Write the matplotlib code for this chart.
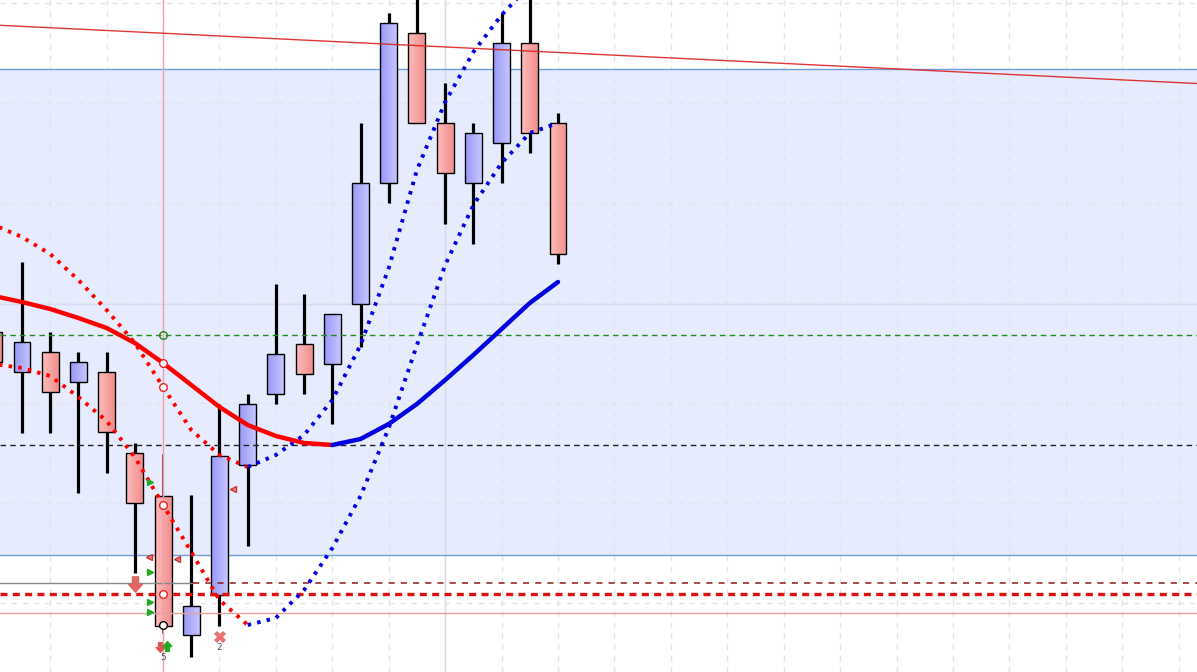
import numpy as np
import matplotlib
matplotlib.use("Agg")
import matplotlib.pyplot as plt
from matplotlib.colors import LinearSegmentedColormap
from matplotlib.patches import Rectangle
from matplotlib.path import Path

# ---- data (price units) ----
opens  = [340, 300, 320, 290, 300, 219, 176, 37, 77, 207, 278, 328, 308, 368, 489, 639, 549, 489, 529, 629, 549]
highs  = [345, 410, 340, 320, 320, 229, 217, 177, 268, 278, 388, 378, 358, 549, 659, 690, 589, 549, 659, 690, 559]
lows   = [300, 239, 239, 179, 199, 99, 39, 15, 46, 126, 268, 278, 248, 325, 469, 549, 448, 428, 489, 519, 408]
closes = [310, 330, 280, 310, 240, 169, 46, 66, 216, 268, 318, 298, 358, 489, 649, 549, 499, 539, 629, 539, 418]

ma      = [376, 370, 363, 354, 344, 329, 309, 287, 265, 247, 236, 229, 227, 233, 248, 268, 292, 317, 343, 369, 390]
upper   = [447, 435, 418, 392, 362, 329, 285, 242, 217, 205, 217, 237, 272, 327, 404, 502, 570, 620, 657, 687, 712]
lower   = [308, 304, 296, 275, 251, 215, 167, 120, 72, 47, 54, 82, 124, 176, 244, 327, 407, 467, 509, 539, 549]

band_lo, band_hi = 117, 603
trend_x = [0, 43]
trend_y = [647, 588]
lvl_green = 337
lvl_black = 227
lvl_gray = 89
lvl_red = 78
lvl_pink = 59
cursor_x, cursor_y = 16, 368
sel = 6

tri_right_x = [5.54, 5.54, 5.54, 5.54]
tri_right_y = [190, 100, 70, 60]
tri_left_x = [5.5, 6.5, 8.48]
tri_left_y = [115, 113, 183]

n = len(opens)
idx = np.arange(n)

fig = plt.figure(figsize=(11.97, 6.72), dpi=100)
ax = fig.add_axes([0, 0, 1, 1])
ax.set_facecolor("white")

# band
ax.axhspan(band_lo, band_hi, color="#e6ecfd", zorder=0, lw=0)
ax.axhline(band_lo, color="#6f9ede", lw=1, zorder=1)
ax.axhline(band_hi, color="#6f9ede", lw=1, zorder=1)

# grid
for gx in range(2, 44, 2):
    ax.axvline(gx, color="#e2e4ec", lw=1, ls=(0, (4, 4)), zorder=0.5)
for gy in range(69, 700, 100):
    ax.axhline(gy, color="#e2e4ec", lw=1, ls=(0, (4, 4)), zorder=0.5)
ax.axvline(cursor_x, color="#d9dce8", lw=1, zorder=0.6)
ax.axhline(cursor_y, color="#d6daf2", lw=1, zorder=0.6)

# candles
blue_cm = LinearSegmentedColormap.from_list("b", ["#9898f8", "#c6c6ff"])
red_cm = LinearSegmentedColormap.from_list("r", ["#ffbcbc", "#f08e8e"])
grad = np.linspace(0, 1, 32).reshape(1, -1)
w = 0.6
for i in range(n):
    o, h, l, c = opens[i], highs[i], lows[i], closes[i]
    if i == sel:
        ax.plot([i, i], [l, h], color="#6a2020", lw=1.1, zorder=2)
    else:
        ax.plot([i, i], [l, h], color="black", lw=2.3, solid_capstyle="butt", zorder=2)
    lo, hi = min(o, c), max(o, c)
    cm = blue_cm if c >= o else red_cm
    ax.imshow(grad, cmap=cm, extent=(i - w / 2, i + w / 2, lo, hi), aspect="auto",
              interpolation="bilinear", zorder=3)
    ax.add_patch(Rectangle((i - w / 2, lo), w, hi - lo, fill=False, ec="black", lw=1, zorder=3.1))

# level lines
ax.axhline(lvl_green, color="#1f8a1f", lw=1, ls=(0, (4, 3)), zorder=4)
ax.axhline(lvl_black, color="#222222", lw=1, ls=(0, (4, 3)), zorder=4)
ax.plot([0, 7.06], [lvl_gray, lvl_gray], color="#8a8a8a", lw=1, zorder=4)
ax.plot([7.06, 43], [lvl_gray, lvl_gray], color="#8b1a1a", lw=1.1, ls=(0, (4, 4)), zorder=4)
ax.axhline(lvl_red, color="#e01010", lw=2.4, ls=(0, (2.1, 1.6)), zorder=4)
ax.axhline(lvl_pink, color="#e8a0a0", lw=1, zorder=4)
ax.axvline(sel, color="#f2a0a8", lw=1, zorder=4)
ax.plot(trend_x, trend_y, color="#dd2020", lw=1, alpha=0.9, zorder=4)


def two_tone(vals, style):
    vals = np.array(vals, dtype=float)
    k = int(np.argmin(vals))
    ax.plot(idx[:k + 1], vals[:k + 1], color="#ff0000", zorder=5, **style)
    ax.plot(idx[k:], vals[k:], color="#0000e0", zorder=5, **style)


dots = dict(lw=2.8, ls=(0, (0.9, 1.6)), dash_capstyle="butt")
two_tone(upper, dots)
two_tone(lower, dots)
two_tone(ma, dict(lw=3.2, solid_capstyle="round"))

# markers at selected bar
ax.plot(sel, lvl_green, "o", ms=5.5, mfc="none", mec="#1f8a1f", mew=1, zorder=7)
for yv in [ma[sel], upper[sel], lower[sel], lvl_red]:
    ax.plot(sel, yv, "o", ms=5.5, mfc="white", mec="#ee2020", mew=1, zorder=7)
ax.plot(sel, lows[sel] + 8, "o", ms=5.5, mfc="white", mec="black", mew=1, zorder=7)

ax.plot(tri_right_x, tri_right_y, ">", ms=4.5, color="#22aa22", ls="none", zorder=7)
ax.plot(tri_left_x, tri_left_y, "<", ms=4.5, mfc="#f08080", mec="#cc3333", ls="none", zorder=7)

arrow_down = Path([(-0.2, 0.5), (0.2, 0.5), (0.2, 0.0), (0.45, 0.0), (0, -0.5), (-0.45, 0.0), (-0.2, 0.0), (-0.2, 0.5)],
                  [Path.MOVETO] + [Path.LINETO] * 6 + [Path.CLOSEPOLY])
arrow_up = Path([(x, -y) for x, y in arrow_down.vertices], arrow_down.codes)
ax.plot(5.0, lvl_gray - 1, marker=arrow_down, ms=11, color="#e06666", zorder=7)
ax.plot(5.89, 25, marker=arrow_down, ms=7, color="#e05555", zorder=7)
ax.plot(6.14, 26, marker=arrow_up, ms=7, color="#22aa22", zorder=7)
ax.plot(8.02, 35, "X", ms=9, color="#e87070", mew=0, zorder=7)
ax.text(sel, 14, "5", fontsize=6.5, color="#555555", ha="center", va="center", zorder=7)
ax.text(8.0, 24, "2", fontsize=6.5, color="#555555", ha="center", va="center", zorder=7)

ax.set_xlim(0.22, 42.65)
ax.set_ylim(0, 672)
ax.axis("off")

fig.savefig("out.png", dpi=100)
